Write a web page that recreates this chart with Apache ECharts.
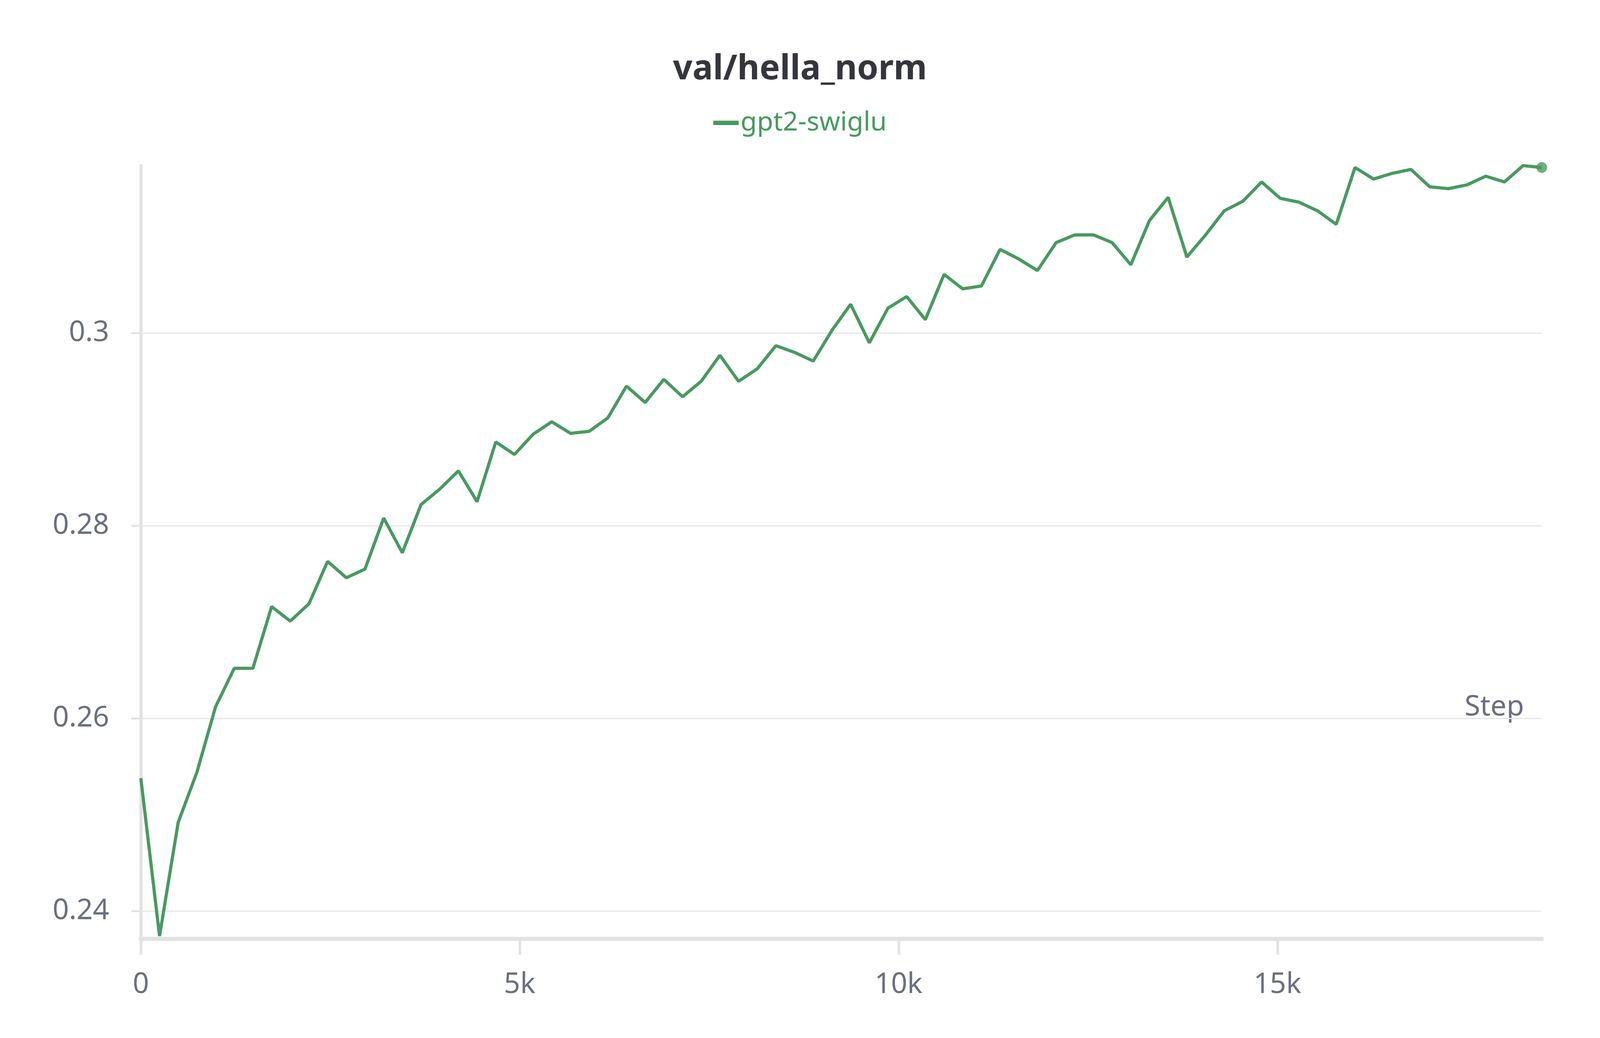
<!DOCTYPE html>
<html>
<head>
<meta charset="utf-8">
<script src="https://cdn.jsdelivr.net/npm/echarts@6/dist/echarts.min.js"></script>
<style>html,body{margin:0;background:#fff;overflow:hidden}#main{width:100vw;height:100vh}</style>
</head>
<body>
<div id="main"></div>
<script>
var steps=[0,247,493,740,986,1233,1479,1726,1972,2219,2465,2712,2958,3205,3451,3698,3944,4191,4437,4684,4930,5177,5423,5670,5916,6163,6409,6656,6902,7149,7395,7642,7888,8135,8381,8628,8874,9121,9367,9614,9860,10107,10353,10600,10846,11093,11339,11586,11832,12079,12325,12572,12818,13065,13311,13558,13804,14051,14297,14544,14790,15037,15283,15530,15776,16023,16269,16516,16762,17009,17255,17502,17748,17995,18241,18488,18734];
var hella=[0.2538,0.2374,0.2492,0.2544,0.2612,0.2652,0.2652,0.2716,0.2701,0.2719,0.2763,0.2746,0.2755,0.2808,0.2772,0.2822,0.2838,0.2857,0.2825,0.2887,0.2874,0.2895,0.2908,0.2896,0.2898,0.2912,0.2945,0.2928,0.2952,0.2934,0.2950,0.2977,0.2950,0.2963,0.2987,0.2980,0.2971,0.3003,0.3030,0.2990,0.3026,0.3038,0.3014,0.3061,0.3046,0.3049,0.3087,0.3077,0.3065,0.3094,0.3102,0.3102,0.3094,0.3071,0.3117,0.3141,0.3079,0.3102,0.3127,0.3137,0.3157,0.3140,0.3136,0.3127,0.3113,0.3172,0.3160,0.3166,0.3170,0.3152,0.3150,0.3154,0.3163,0.3157,0.3174,0.3172];
var yTicks=[0.24,0.26,0.28,0.30];
var xTicks=[0,5000,10000,15000];

var green='#479a5f', gray='#6b6f80', axisGray='#e2e2e4';
var el=document.getElementById('main');
var k=el.clientWidth/5056;   // all sizes measured on the 5056 wide reference
function s(v){return v*k;}
var pts=steps.slice(0,hella.length).map(function(st,i){return [st,hella[i]];});
var last=pts[pts.length-1];
var chart=echarts.init(el);
chart.setOption({
  animation:false,
  title:{text:'val/hella_norm',left:'center',top:s(160),textStyle:{fontFamily:'Noto Sans',fontSize:s(108),fontWeight:'bold',color:'#35363d'}},
  legend:{top:s(340),left:'center',icon:'rect',itemWidth:s(80),itemHeight:s(14),itemGap:s(40),
    textStyle:{fontFamily:'Noto Sans',fontSize:s(84),color:green},data:['gpt2-swiglu']},
  grid:{left:s(445),right:s(184),top:s(523),bottom:s(313)},
  xAxis:{type:'value',min:0,max:last[0],
    axisLine:{lineStyle:{color:axisGray,width:s(13)}},
    axisTick:{customValues:xTicks,length:s(50),lineStyle:{color:axisGray,width:s(8)}},
    axisLabel:{customValues:xTicks,margin:s(100),fontFamily:'Noto Sans',fontSize:s(90),color:gray,
      formatter:function(v){return v===0?'0':(v/1000)+'k';}},
    splitLine:{show:false}},
  yAxis:{type:'value',min:0.2371,max:0.3174,
    axisLine:{show:true,lineStyle:{color:axisGray,width:s(10)}},
    axisTick:{show:true,customValues:yTicks,length:s(30),lineStyle:{color:axisGray,width:s(6)}},
    axisLabel:{customValues:yTicks,margin:s(100),fontFamily:'Noto Sans',fontSize:s(90),color:gray,
      formatter:function(v){return String(+v.toFixed(2));}},
    splitLine:{show:false}},
  graphic:[{type:'text',right:s(240),top:s(2190),style:{text:'Step',font:s(90)+'px "Noto Sans"',fill:gray}}],
  series:[
    {name:'gpt2-swiglu',type:'line',data:pts,showSymbol:false,z:3,
      lineStyle:{color:green,width:s(10)},itemStyle:{color:green},
      markLine:{silent:true,symbol:'none',label:{show:false},z:1,
        lineStyle:{color:'#e6e6e6',width:s(4),type:'solid'},
        data:yTicks.map(function(v){return {yAxis:v};})}},
    {type:'scatter',data:[last],symbolSize:s(34),itemStyle:{color:green},z:4}
  ]
});
</script>
</body>
</html>
